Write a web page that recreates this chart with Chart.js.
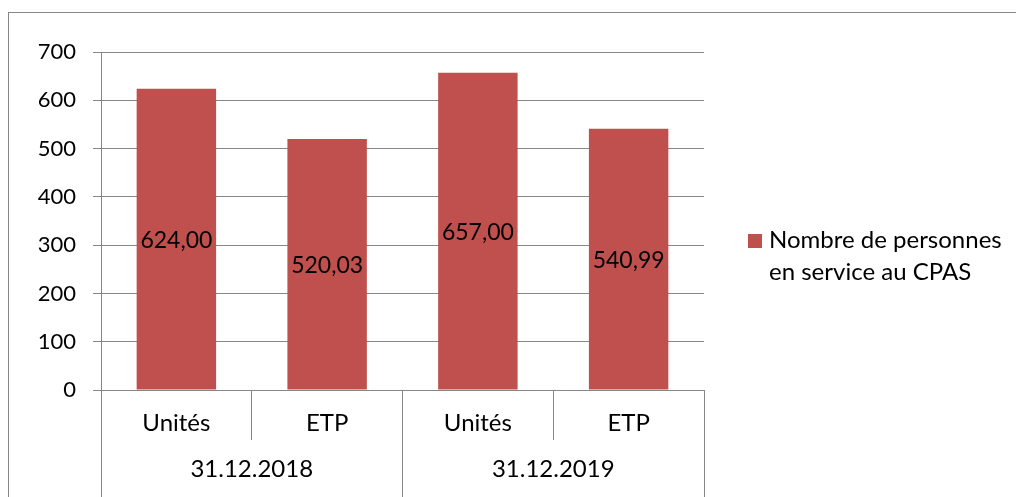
<!DOCTYPE html>
<html>
<head>
<meta charset="utf-8">
<script src="https://cdn.jsdelivr.net/npm/chart.js@4/dist/chart.umd.min.js"></script>
<style>
  html, body { margin: 0; padding: 0; background: #fff; }
  #wrap { position: relative; width: 1016px; height: 497px; overflow: hidden; }
  #frame {
    position: absolute; left: 8px; top: 12px; right: -4px; bottom: -4px;
    border-left: 1.5px solid #878787; border-top: 1.5px solid #878787;
  }
  #c { position: absolute; left: 0; top: 0; }
</style>
</head>
<body>
<div id="wrap">
  <div id="frame"></div>
  <canvas id="c" width="1016" height="497"></canvas>
</div>
<script>
// Staff headcount of the CPAS at year end: units and full-time equivalents
const categories = ['Unités', 'ETP', 'Unités', 'ETP'];
const groups = ['31.12.2018', '31.12.2019'];
const values = [624.00, 520.03, 657.00, 540.99];
const seriesLines = ['Nombre de personnes', 'en service au CPAS'];
const yMin = 0;
const yMax = 700;
const yStep = 100;

const FONT = 'Lato';
const GRID = '#878787';
const BAR = '#C0504D';

const frNumber = v => v.toFixed(2).replace('.', ',');

// Value labels centred inside each bar
const valueLabels = {
  id: 'valueLabels',
  afterDatasetsDraw(chart) {
    const ctx = chart.ctx;
    const meta = chart.getDatasetMeta(0);
    const data = chart.data.datasets[0].data;
    ctx.save();
    ctx.font = `23px ${FONT}`;
    ctx.fillStyle = '#000';
    ctx.textAlign = 'center';
    ctx.textBaseline = 'middle';
    meta.data.forEach((bar, i) => {
      const { x, y, base } = bar.getProps(['x', 'y', 'base'], true);
      ctx.fillText(frNumber(data[i]), x, (y + base) / 2 + 1);
    });
    ctx.restore();
  }
};

// Two-line legend on the right
const sideLegend = {
  id: 'sideLegend',
  afterDraw(chart) {
    const ctx = chart.ctx;
    const ds = chart.data.datasets[0];
    ctx.save();
    ctx.fillStyle = ds.backgroundColor;
    ctx.fillRect(748, 234, 14, 14);
    ctx.fillStyle = '#000';
    ctx.font = `24px ${FONT}`;
    ctx.textAlign = 'left';
    ctx.textBaseline = 'alphabetic';
    seriesLines.forEach((line, i) => ctx.fillText(line, 769, 248 + i * 32));
    ctx.restore();
  }
};

new Chart(document.getElementById('c'), {
  type: 'bar',
  data: {
    labels: categories,
    datasets: [{
      label: seriesLines.join(' '),
      data: values,
      backgroundColor: BAR,
      borderWidth: 0,
      barPercentage: 0.527,
      categoryPercentage: 1,
      xAxisID: 'x',
      yAxisID: 'y'
    }]
  },
  options: {
    responsive: false,
    animation: false,
    layout: { padding: { top: 52, right: 312, left: 0, bottom: 0 } },
    plugins: {
      legend: { display: false },
      tooltip: { enabled: false }
    },
    scales: {
      y: {
        min: yMin,
        max: yMax,
        ticks: { stepSize: yStep, color: '#000', padding: 17, font: { family: FONT, size: 22 } },
        grid: { color: GRID, lineWidth: 1, tickLength: 8 },
        border: { color: GRID, width: 1 },
        afterFit(s) { s.width = 101; }
      },
      x: {
        type: 'category',
        position: 'bottom',
        weight: 0,
        grid: { offset: true, drawOnChartArea: false, tickLength: 50, color: GRID, lineWidth: 1 },
        border: { color: GRID, width: 1 },
        ticks: { color: '#000', padding: -31, font: { family: FONT, size: 24 }, maxRotation: 0 },
        afterFit(s) { s.height = 50; }
      },
      x2: {
        type: 'category',
        labels: groups,
        position: 'bottom',
        weight: 1,
        grid: { offset: true, drawOnChartArea: false, tickLength: 57, color: GRID, lineWidth: 1 },
        border: { display: false },
        ticks: { color: '#000', padding: -42, font: { family: FONT, size: 24 }, maxRotation: 0 },
        afterFit(s) { s.height = 57; }
      }
    }
  },
  plugins: [valueLabels, sideLegend]
});
</script>
</body>
</html>
